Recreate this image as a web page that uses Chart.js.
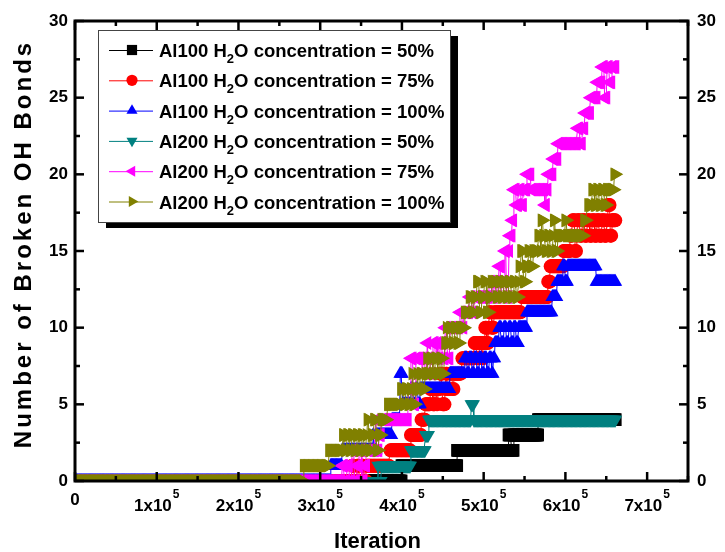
<!DOCTYPE html>
<html>
<head>
<meta charset="utf-8">
<script src="https://cdn.jsdelivr.net/npm/chart.js@4.4.1/dist/chart.umd.min.js"></script>
<style>
  html, body { margin: 0; padding: 0; background: #fff; }
  #wrap { width: 725px; height: 552px; position: relative; }
</style>
</head>
<body>
<div id="wrap"><canvas id="chart-oh-bonds"></canvas></div>
<script>
// Broken OH bond counts, stored as runs of constant count:
// [bonds broken, first iteration (x1000), last iteration (x1000)]
const al100_50 = [
    [0, 0, 399], [1, 400, 467], [2, 468, 537], [3, 530, 566], [4, 567, 661]
];
const al100_75 = [
    [0, 0, 356], [1, 337, 384], [2, 386, 410], [3, 411, 426], [4, 424, 428],
    [5, 429, 453], [6, 432, 463], [7, 443, 472], [8, 474, 499], [9, 486, 505],
    [10, 502, 512], [11, 505, 545], [12, 547, 578], [13, 579, 581], [14, 579, 597],
    [15, 598, 613], [16, 603, 656], [17, 600, 661], [18, 652, 654]
];
const al100_100 = [
    [0, 0, 312], [1, 313, 328], [2, 325, 370], [3, 365, 388], [4, 388, 400],
    [7, 398, 400], [5, 400, 425], [6, 410, 459], [7, 456, 511], [8, 475, 518],
    [9, 514, 544], [10, 516, 552], [11, 553, 585], [12, 584, 589], [13, 590, 602],
    [14, 596, 637], [13, 636, 661]
];
const al200_50 = [
    [0, 0, 376], [1, 371, 410], [2, 410, 430], [3, 429, 432], [4, 431, 661], [5, 485, 487]
];
const al200_75 = [
    [0, 0, 354], [1, 327, 357], [2, 339, 375], [3, 368, 377], [4, 368, 407],
    [5, 408, 416], [6, 408, 418], [8, 408, 459], [7, 425, 442], [9, 431, 451],
    [10, 453, 475], [11, 470, 491], [12, 481, 537], [13, 504, 527], [14, 518, 527],
    [15, 526, 534], [16, 532, 534], [17, 535, 536], [18, 532, 551], [19, 536, 581],
    [18, 575, 576], [20, 553, 557], [20, 579, 587], [21, 585, 593], [22, 590, 624],
    [23, 614, 624], [24, 624, 630], [25, 628, 650], [26, 636, 656], [27, 642, 661]
];
const al200_100 = [
    [0, 0, 281], [1, 280, 311], [2, 311, 374], [3, 328, 377], [4, 358, 381],
    [5, 383, 418], [6, 396, 429], [7, 413, 451], [8, 431, 451], [9, 453, 473],
    [10, 455, 477], [11, 474, 512], [12, 480, 543], [13, 492, 552], [14, 542, 560],
    [15, 545, 593], [16, 565, 625], [17, 571, 572], [17, 586, 587], [17, 600, 601],
    [17, 623, 625], [18, 628, 652], [19, 632, 661], [20, 660, 661]
];

const seriesRuns = [al100_50, al100_75, al100_100, al200_50, al200_75, al200_100];
const surfaces = ['Al100', 'Al100', 'Al100', 'Al200', 'Al200', 'Al200'];
const concentrations = ['50%', '75%', '100%', '50%', '75%', '100%'];
const colors = ['#000000', '#FF0000', '#0000FF', '#008080', '#FF00FF', '#808000'];
const markers = [
    { style: 'rect', rotation: 0, radius: 9 },
    { style: 'circle', rotation: 0, radius: 7 },
    { style: 'triangle', rotation: 0, radius: 8 },
    { style: 'triangle', rotation: 180, radius: 8 },
    { style: 'triangle', rotation: 270, radius: 8 },
    { style: 'triangle', rotation: 90, radius: 8 }
];

const xTickValues = [0, 100000, 200000, 300000, 400000, 500000, 600000, 700000];
const xTickBase = ['0', '1x10', '2x10', '3x10', '4x10', '5x10', '6x10', '7x10'];
const xTickPower = ['', '5', '5', '5', '5', '5', '5', '5'];

const FONT = 'Arial, "Liberation Sans", sans-serif';
const DUMP_EVERY = 1; // thousand iterations between saved frames

// one point per saved frame; where runs overlap the count flips between them
function expandRuns(runs) {
    const last = Math.max(...runs.map(r => r[2]));
    const pts = [];
    for (let k = 0; k <= last; k += DUMP_EVERY) {
        const here = runs.filter(r => k >= r[1] && k <= r[2]);
        if (!here.length) continue;
        const spike = here.find(r => r[2] - r[1] <= 6);
        const run = spike || here[Math.floor(k / 3) % here.length];
        pts.push({ x: k * 1000, y: run[0] });
    }
    return pts;
}

const datasets = seriesRuns.map((runs, i) => ({
    label: surfaces[i] + ' H2O concentration = ' + concentrations[i],
    data: expandRuns(runs),
    borderColor: colors[i],
    backgroundColor: colors[i],
    borderWidth: 1,
    pointStyle: markers[i].style,
    rotation: markers[i].rotation,
    pointRadius: markers[i].radius,
    pointBorderWidth: 0,
    pointHoverRadius: 0,
    tension: 0,
    clip: 0,
    order: seriesRuns.length - 1 - i // later series drawn on top
}));

function line(ctx, x1, y1, x2, y2) {
    ctx.beginPath();
    ctx.moveTo(x1, y1);
    ctx.lineTo(x2, y2);
    ctx.stroke();
}

const frameAndLegend = {
    id: 'frameAndLegend',
    afterDraw(chart) {
        const { ctx, chartArea: a, scales } = chart;
        const xs = scales.x, ys = scales.y;
        ctx.save();
        ctx.strokeStyle = '#000';
        ctx.fillStyle = '#000';

        // ticks point into the plot on all four sides
        ctx.lineWidth = 2.5;
        for (let v = 0; v <= 750000; v += 50000) {
            const px = xs.getPixelForValue(v);
            const len = v % 100000 === 0 ? 9 : 5;
            line(ctx, px, a.bottom, px, a.bottom - len);
            line(ctx, px, a.top, px, a.top + len);
        }
        for (let v = 0; v <= 30; v += 2.5) {
            const py = ys.getPixelForValue(v);
            const len = v % 5 === 0 ? 9 : 5;
            line(ctx, a.left, py, a.left + len, py);
            line(ctx, a.right, py, a.right - len, py);
        }
        ctx.lineWidth = 3;
        ctx.strokeRect(a.left, a.top, a.right - a.left, a.bottom - a.top);

        // x tick labels with superscript exponent
        ctx.textBaseline = 'alphabetic';
        ctx.textAlign = 'left';
        xTickValues.forEach((v, i) => {
            const px = xs.getPixelForValue(v);
            ctx.font = 'bold 17px ' + FONT;
            const w1 = ctx.measureText(xTickBase[i]).width;
            ctx.font = 'bold 12px ' + FONT;
            const w2 = xTickPower[i] ? ctx.measureText(xTickPower[i]).width + 1 : 0;
            const left = px - (w1 + w2) / 2;
            const base = xTickPower[i] ? a.bottom + 30 : a.bottom + 24;
            ctx.font = 'bold 17px ' + FONT;
            ctx.fillText(xTickBase[i], left, base);
            if (w2) {
                ctx.font = 'bold 12px ' + FONT;
                ctx.fillText(xTickPower[i], left + w1 + 1, base - 13);
            }
        });

        // axis titles
        ctx.font = 'bold 22px ' + FONT;
        ctx.textAlign = 'center';
        ctx.fillText('Iteration', (a.left + a.right) / 2 - 4, 548);
        ctx.save();
        ctx.translate(31, 244);
        ctx.rotate(-Math.PI / 2);
        ctx.font = 'bold 24px ' + FONT;
        ctx.letterSpacing = '3px';
        ctx.fillText('Number of Broken OH Bonds', 0, 0);
        ctx.restore();

        // legend box with drop shadow
        const bx = 98, by = 30, bw = 352, bh = 192;
        ctx.fillStyle = '#000';
        ctx.fillRect(bx + 8, by + 6, bw, bh);
        ctx.fillStyle = '#fff';
        ctx.fillRect(bx, by, bw, bh);
        ctx.strokeStyle = '#444';
        ctx.lineWidth = 1;
        ctx.strokeRect(bx + 0.5, by + 0.5, bw, bh);

        ctx.textAlign = 'left';
        datasets.forEach((ds, i) => {
            const cy = by + 20 + i * 30.3;
            ctx.strokeStyle = colors[i];
            ctx.lineWidth = 1;
            line(ctx, 109, cy + 0.5, 153, cy + 0.5);
            ctx.fillStyle = colors[i];
            Chart.helpers.drawPoint(ctx, {
                pointStyle: markers[i].style,
                rotation: markers[i].rotation,
                radius: markers[i].radius * 0.8,
                borderWidth: 0
            }, 132, cy);

            ctx.fillStyle = '#000';
            let tx = 159;
            const base = cy + 7;
            ctx.font = 'bold 18.5px ' + FONT;
            const head = surfaces[i] + ' H';
            ctx.fillText(head, tx, base);
            tx += ctx.measureText(head).width;
            ctx.font = 'bold 13px ' + FONT;
            ctx.fillText('2', tx, base + 6);
            tx += ctx.measureText('2').width;
            ctx.font = 'bold 18.5px ' + FONT;
            ctx.fillText('O concentration = ' + concentrations[i], tx, base);
        });
        ctx.restore();
    }
};

const hiddenAxis = {
    grid: { display: false, drawTicks: false },
    border: { display: false },
    ticks: { display: false }
};
const yTicks = {
    stepSize: 5,
    color: '#000',
    font: { family: FONT, size: 17, weight: 'bold' }
};

new Chart(document.getElementById('chart-oh-bonds'), {
    type: 'line',
    data: { datasets },
    options: {
        responsive: true,
        maintainAspectRatio: false,
        animation: false,
        parsing: false,
        normalized: true,
        layout: { padding: 0 },
        events: [],
        plugins: { legend: { display: false }, tooltip: { enabled: false } },
        scales: {
            x: {
                type: 'linear', position: 'bottom', min: 0, max: 750000, ...hiddenAxis,
                afterFit(s) { s.height = 71; }
            },
            xTop: {
                type: 'linear', position: 'top', min: 0, max: 750000, ...hiddenAxis,
                afterFit(s) { s.height = 21; }
            },
            y: {
                type: 'linear', position: 'left', min: 0, max: 30,
                grid: { display: false, drawTicks: false },
                border: { display: false },
                ticks: { ...yTicks, padding: 7 },
                afterFit(s) { s.width = 75; }
            },
            yRight: {
                type: 'linear', position: 'right', min: 0, max: 30,
                grid: { display: false, drawTicks: false },
                border: { display: false },
                ticks: { ...yTicks, padding: 9 },
                afterFit(s) { s.width = 37; }
            }
        }
    },
    plugins: [frameAndLegend]
});
</script>
</body>
</html>
